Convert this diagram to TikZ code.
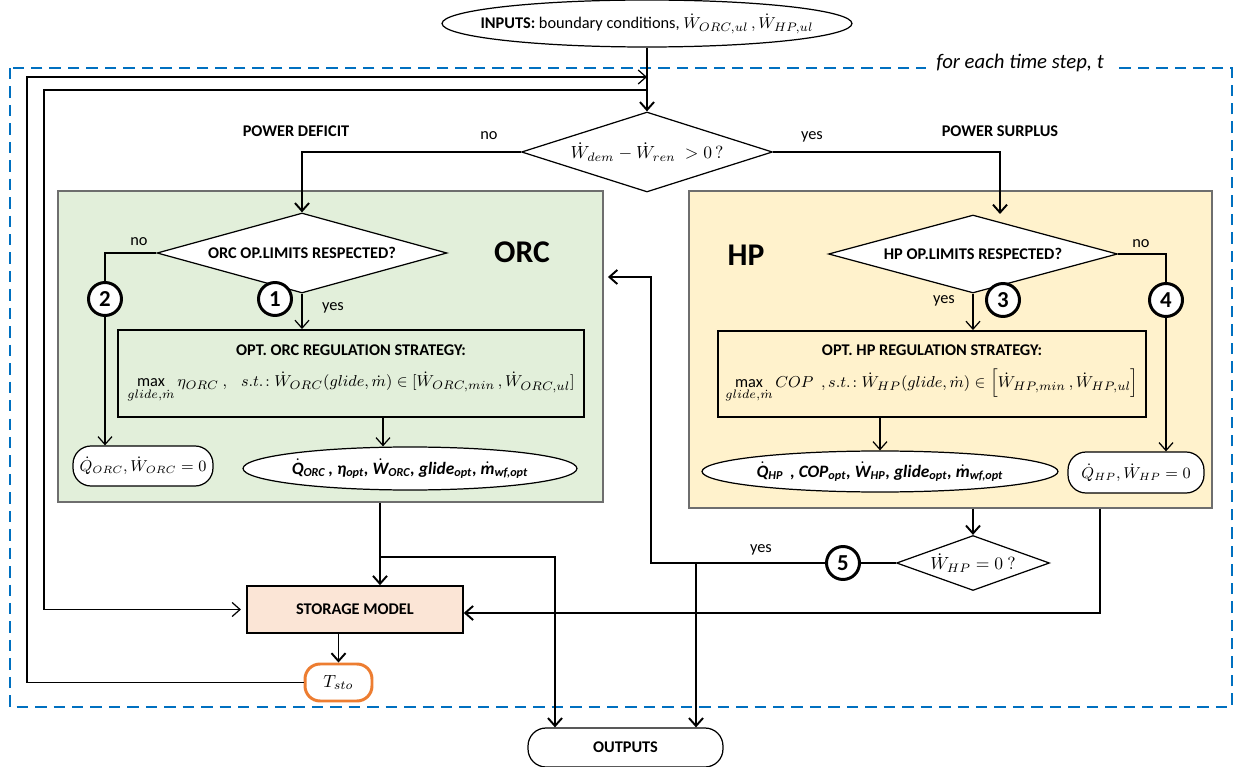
\documentclass[tikz,border=0pt]{standalone}
\usepackage{fontspec}
\setmainfont{Carlito}
\usepackage{amsmath}
\usetikzlibrary{shapes.geometric, arrows.meta, positioning, calc}
\definecolor{fdGreen}{RGB}{226,239,218}
\definecolor{fdYellow}{RGB}{255,242,204}
\definecolor{fdPeach}{RGB}{251,229,214}
\definecolor{fdOrange}{RGB}{237,125,49}
\definecolor{fdBlue}{RGB}{0,112,192}
\definecolor{fdGray}{RGB}{110,110,110}
\newcommand{\dtext}[1]{$\dot{\text{#1}}$}

\begin{document}
\begin{tikzpicture}[x=0.02cm, y=-0.02cm,
  >={Straight Barb[length=4.5pt,width=8pt]},
  base/.style={font=\fontsize{9.3}{11}\selectfont, inner sep=0pt},
  heavy/.style={font=\fontsize{9.3}{11}\selectfont\bfseries},
  maths/.style={font=\fontsize{10.3}{12}\selectfont},
  small maths/.style={font=\fontsize{8.6}{10}\selectfont},
  result/.style={font=\fontsize{9.9}{12}\selectfont\bfseries\itshape},
  decision/.style={base, diamond, draw, line width=0.7pt, fill=white},
  oval/.style={ellipse, draw, line width=0.7pt, fill=white},
  pill/.style={base, draw, line width=0.7pt, rounded corners=0.36cm, fill=white},
  strategy/.style={base, draw, line width=1.1pt, align=center},
  area/.style={draw=fdGray, line width=0.7pt},
  num/.style={circle, draw, line width=1.7pt, fill=white, inner sep=0pt, minimum size=0.66cm, font=\fontsize{13}{13}\selectfont\bfseries},
  big/.style={font=\fontsize{18}{18}\selectfont\bfseries},
  flow/.style={line width=1.1pt},
  link/.style={line width=0.7pt}
]
  \useasboundingbox (0,0) rectangle (1249,767);
  \draw[fdBlue, line width=1.4pt, dash pattern=on 6.5pt off 4pt] (10,68) rectangle (1232,707);
  \node[base, font=\fontsize{11.8}{13}\selectfont\itshape, fill=white, inner xsep=6pt, inner ysep=2pt] (tstep) at (1020,63) {for each time step, t};

  \node[area, fill=fdGreen, minimum width=10.9cm, minimum height=6.22cm] (orc) at (330.5,346.5) {};
  \node[area, fill=fdYellow, minimum width=10.46cm, minimum height=6.34cm] (hp) at (950.5,349.5) {};

  \node[oval, minimum width=8.2cm, minimum height=0.94cm] (inputs) at (647,23.5) {};
  \node[base] (inputstxt) at (inputs) {\textbf{INPUTS:} boundary conditions, $\dot W_{ORC,ul}\,,\dot W_{HP,ul}$};
  \node[decision, maths, aspect=3.14, minimum width=5.02cm, minimum height=1.6cm] (dmain) at (647,152) {$\dot W_{dem}-\dot W_{ren}\ >0\,?$};
  \node[base, heavy] (deficit) at (296,131) {POWER DEFICIT};
  \node[base, heavy] (surplus) at (1000,131) {POWER SURPLUS};
  \node[base] (nomain) at (489,136) {no};
  \node[base] (yesmain) at (812,137) {yes};

  \node[big] (orclbl) at (522,252) {ORC};
  \node[decision, heavy, aspect=3.63, minimum width=5.8cm, minimum height=1.6cm] (dorc) at (302,253) {ORC OP.LIMITS RESPECTED?};
  \node[strategy, minimum width=9.32cm, minimum height=1.74cm] (optorc) at (351,373.5) {\textbf{OPT. ORC REGULATION STRATEGY:}\\[7pt] $\max\limits_{glide,\dot m}\eta_{ORC}\ ,\ \ \ s.t.\!:\dot W_{ORC}(glide,\dot m)\in[\dot W_{ORC,min}\,,\dot W_{ORC,ul}]$};
  \node[pill, small maths, minimum width=2.8cm, minimum height=0.8cm] (orczero) at (143,466) {$\dot Q_{ORC},\dot W_{ORC}=0$};
  \node[oval, minimum width=6.68cm, minimum height=0.86cm] (orcout) at (410,468.5) {};
  \node[base, result] (orcouttxt) at (orcout) {\dtext{Q}\textsubscript{ORC}\,, η\textsubscript{opt}, \dtext{W}\textsubscript{ORC}, glide\textsubscript{opt}, \dtext{m}\textsubscript{wf,opt}};
  \node[base] (noorc) at (139,242) {no};
  \node[base] (yesorc) at (333,308) {yes};

  \node[big] (hplbl) at (746,255) {HP};
  \node[decision, heavy, aspect=3.7, minimum width=5.78cm, minimum height=1.56cm] (dhp) at (973,254) {HP OP.LIMITS RESPECTED?};
  \node[strategy, minimum width=8.56cm, minimum height=1.72cm] (opthp) at (932,374) {\textbf{OPT. HP REGULATION STRATEGY:}\\[7pt] $\max\limits_{glide,\dot m} COP\ \ ,s.t.\!:\dot W_{HP}(glide,\dot m)\in\left[\dot W_{HP,min}\,,\dot W_{HP,ul}\right]$};
  \node[oval, minimum width=7.12cm, minimum height=0.82cm] (hpout) at (880,471.5) {};
  \node[base, result] (hpouttxt) at (hpout) {\dtext{Q}\textsubscript{HP}\ \,, COP\textsubscript{opt}, \dtext{W}\textsubscript{HP}, glide\textsubscript{opt}, \dtext{m}\textsubscript{wf,opt}};
  \node[pill, small maths, minimum width=2.72cm, minimum height=0.82cm] (hpzero) at (1136,472.5) {$\dot Q_{HP},\dot W_{HP}=0$};
  \node[base] (nohp) at (1141,244) {no};
  \node[base] (yeshp) at (944,301) {yes};

  \node[base, heavy, draw, line width=0.9pt, fill=fdPeach, minimum width=4.32cm, minimum height=0.94cm] (storage) at (355,609.5) {STORAGE MODEL};
  \node[base, maths, draw=fdOrange, line width=1.7pt, rounded corners=0.3cm, fill=white, minimum width=1.34cm, minimum height=0.74cm] (tsto) at (338.5,682.5) {$T_{sto}$};
  \node[decision, maths, aspect=2.78, minimum width=3.06cm, minimum height=1.1cm] (dzero) at (973,563) {$\dot W_{HP}=0\ ?$};
  \node[pill, heavy, minimum width=3.9cm, minimum height=0.78cm] (outputs) at (625.5,747.5) {OUTPUTS};
  \node[base] (yesback) at (761,550) {yes};

  \foreach \n/\px/\py in {1/275/299, 2/105/299, 3/1003/300, 4/1166/300, 5/843/563}
    \node[num] (c\n) at (\px,\py) {\n};

  \coordinate (topo) at (27,77);
  \coordinate (topi) at (44,90);
  \coordinate (hpin) at (1000,214);
  \coordinate (orcmid) at (383,0);
  \coordinate (orcdown) at (380,557);
  \coordinate (outl) at (555,0);
  \coordinate (outr) at (696,563);
  \coordinate (hpdown) at (1100,613);
  \coordinate (back) at (651,563);
  \coordinate (orcin) at (0,277);

  \draw[flow,->] (inputs.south) -- (dmain.north);
  \draw[link,->] (tsto.west) -| (topo) -- (topo -| dmain.north);
  \draw[link,->,shorten >=3pt] (topi -| dmain.north) -- (topi) |- (storage.west);
  \draw[flow,->] (dmain.west) -| (dorc.north);
  \draw[flow,->] (dmain.east) -| (hpin);

  \draw[link] (dorc.west) -| (c2);
  \draw[link,->] (c2) -- (c2 |- orczero.north);
  \draw[link,->] (dorc.south) -- (dorc.south |- optorc.north);
  \draw[link,->] (orcmid |- optorc.south) -- (orcmid |- orcout.north);

  \draw[link] (dhp.east) -| (c4);
  \draw[link,->] (c4) -- (c4 |- hpzero.north);
  \draw[link,->] (dhp.south) -- (dhp.south |- opthp.north);
  \draw[link,->] (hpout.north |- opthp.south) -- (hpout.north);

  \draw[flow,->] (orcdown |- orc.south) -- (orcdown |- storage.north);
  \draw[flow,->] (orcdown) -| (outl |- outputs.north);
  \draw[flow,->] (storage.south -| tsto.north) -- (tsto.north);
  \draw[flow,->] (dzero.north |- hp.south) -- (dzero.north);
  \draw[flow,->] (hpdown |- hp.south) -- (hpdown) -- (hpdown -| storage.east);
  \draw[flow] (dzero.west) -- (c5);
  \draw[flow,->,shorten >=2.5pt] (c5) -- (back) |- (orcin -| orc.east);
  \draw[flow,->] (outr) -- (outr |- outputs.north);
\end{tikzpicture}
\end{document}
